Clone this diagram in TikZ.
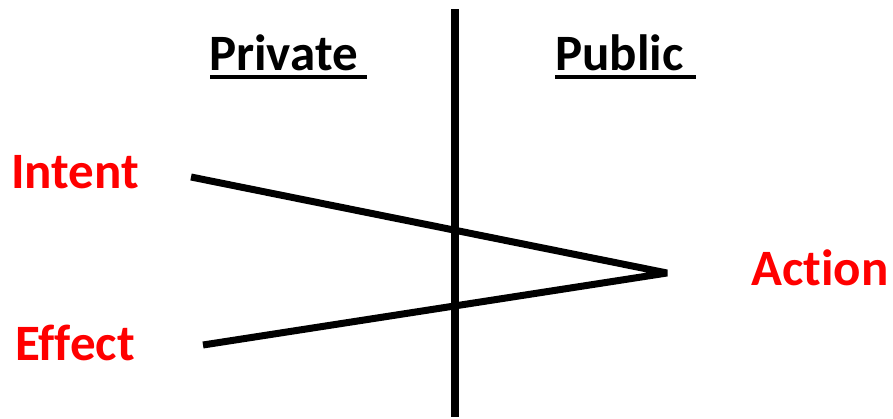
\documentclass[tikz,border=0pt]{standalone}
\usepackage{fontspec}
\setmainfont[Ligatures=NoCommon]{Carlito}
\begin{document}
\begin{tikzpicture}[x=1pt,y=-1pt,
  head/.style={inner sep=0pt,anchor=base west,font=\fontsize{51}{60}\selectfont\bfseries},
  lbl/.style={inner sep=0pt,anchor=base west,text=red,font=\fontsize{51}{60}\selectfont\bfseries},
  bar/.style={line width=8pt},
  uline/.style={line width=4pt},
  stroke/.style={line width=7pt}]
\useasboundingbox (0,0) rectangle (893,418);
\coordinate (top) at (455,9);
\coordinate (bot) at (455,417);
\draw[bar] (top) -- (bot);
\node[head] (priv) at (209,70) {Private};
\node[head] (pub) at (555,70) {Public};
\draw[uline] ([yshift=-7pt,xshift=1pt]priv.base west) -- ([yshift=-7pt,xshift=9pt]priv.base east);
\draw[uline] ([yshift=-7pt]pub.base west) -- ([yshift=-7pt,xshift=12pt]pub.base east);
\node[lbl] (intent) at (11,188) {Intent};
\node[lbl] (effect) at (15,360) {Effect};
\node[lbl] (action) at (751,285) {Action};
\coordinate (a) at (191,177);
\coordinate (b) at (667,273);
\coordinate (c) at (203,345);
\draw[stroke,line join=bevel] (a) -- (b) -- (c);
\end{tikzpicture}
\end{document}
